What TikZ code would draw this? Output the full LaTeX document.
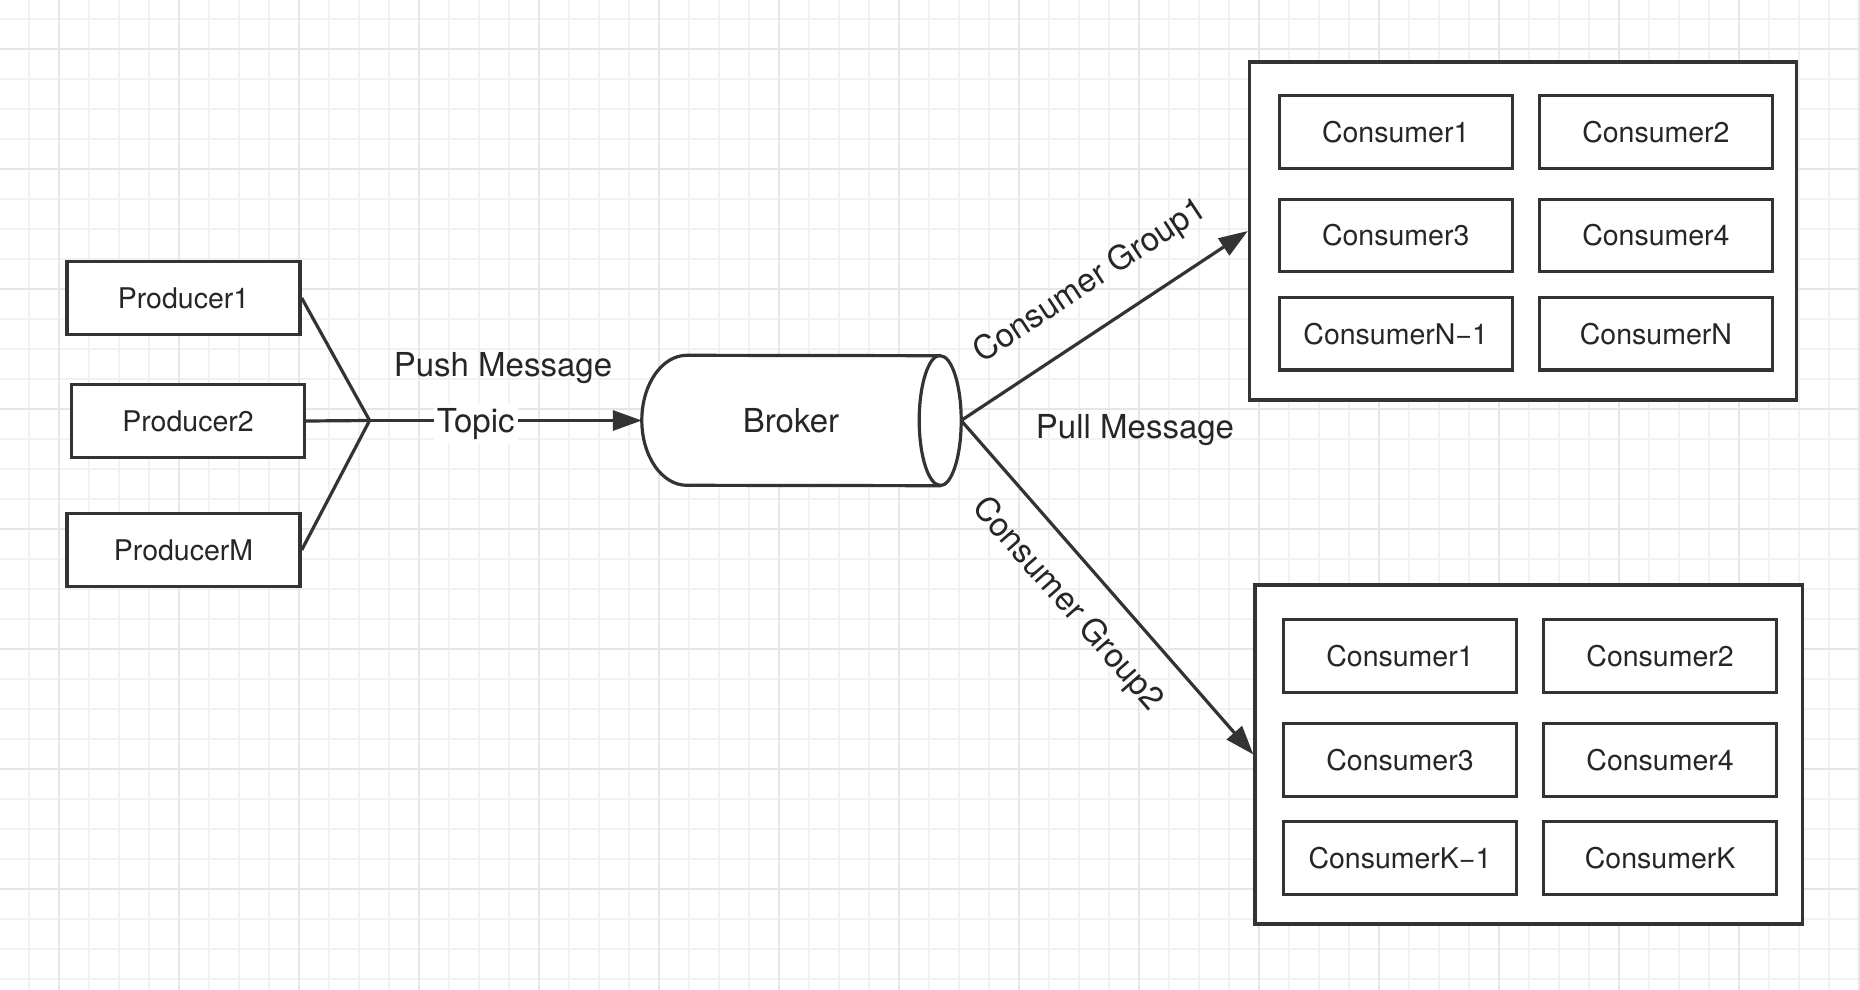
\documentclass[tikz,border=0pt]{standalone}
\usepackage{fontspec}
\setmainfont{TeX Gyre Heros}
\usetikzlibrary{arrows.meta,positioning,calc}
\pgfdeclarelayer{grid}
\pgfdeclarelayer{background}
\pgfsetlayers{grid,background,main}
\definecolor{ink}{RGB}{51,51,51}
\definecolor{textink}{RGB}{38,38,38}
\definecolor{gridminor}{RGB}{242,242,242}
\definecolor{gridmajor}{RGB}{230,230,230}
\tikzset{
  box/.style={draw=ink, line width=3.4pt, fill=white, text=textink, inner sep=0pt,
    minimum width=233pt, minimum height=72.5pt, font=\fontsize{28.5}{34}\selectfont},
  groupbox/.style={draw=ink, line width=3.4pt, fill=white},
  link/.style={draw=ink, line width=3.2pt},
  arrow/.style={link, -{Triangle[length=29pt,width=20pt]}},
  lbl/.style={text=textink, font=\fontsize{33}{40}\selectfont}
}

\begin{document}
\begin{tikzpicture}[x=1pt,y=-1pt]
\useasboundingbox (0,0) rectangle (1860,990);
\begin{pgfonlayer}{grid}
  \fill[white] (0,0) rectangle (1860,990);
  \foreach \x in {29,59,...,1859}
    \draw[gridminor, line width=1.5pt] (\x,0) -- (\x,990);
  \foreach \y in {19,49,...,979}
    \draw[gridminor, line width=1.5pt] (0,\y) -- (1860,\y);
  \foreach \x in {59,179,...,1859}
    \draw[gridmajor, line width=2pt] (\x,0) -- (\x,990);
  \foreach \y in {49,169,...,889}
    \draw[gridmajor, line width=2pt] (0,\y) -- (1860,\y);
\end{pgfonlayer}

\node[box] (prod1) at (183.5,298) {Producer1};
\node[box] (prod2) at (188,421) {Producer2};
\node[box] (prodM) at (183.5,550) {ProducerM};
\coordinate (hub) at (369.6,420.5);

\node[lbl, inner sep=0pt, minimum width=298pt, minimum height=130pt] (broker) at (791,420.5) {Broker};
\coordinate (brokerout) at ([xshift=21pt]broker.east);
\begin{pgfonlayer}{background}
  \draw[link, fill=white] ([xshift=45pt]broker.north west)
    arc[start angle=90, end angle=270, x radius=45pt, y radius=65pt]
    -- (broker.south east)
    arc[start angle=-90, end angle=90, x radius=21pt, y radius=65pt] -- cycle;
  \draw[link] (broker.north east)
    arc[start angle=90, end angle=270, x radius=21pt, y radius=65pt];
\end{pgfonlayer}

\draw[link] (prod1.east) -- (hub);
\draw[link] (prod2.east) -- (hub);
\draw[link] (prodM.east) -- (hub);
\draw[arrow] (hub) -- (broker.west)
  node[lbl, pos=0.39, fill=white, anchor=base, yshift=-11.5pt, inner xsep=3pt, inner ysep=4pt] (topic) {Topic}
  node[lbl, pos=0.49, anchor=base, yshift=44pt] (push) {Push Message};

\node[groupbox, minimum width=547pt, minimum height=338pt] (group1) at (1523,231) {};
\node[groupbox, minimum width=547.5pt, minimum height=339pt] (group2) at (1528.8,754.5) {};
\foreach \n/\t/\x/\y in {ca1/Consumer1/1395.7/132, ca2/Consumer2/1655.9/132,
    ca3/Consumer3/1395.7/235.5, ca4/Consumer4/1655.9/235.5,
    ca5/ConsumerN−1/1395.7/333.7, ca6/ConsumerN/1655.9/333.7}
  \node[box] (\n) at (\x,\y) {\t};
\foreach \n/\t/\x/\y in {cb1/Consumer1/1400/656, cb2/Consumer2/1660.1/656,
    cb3/Consumer3/1400/760, cb4/Consumer4/1660.1/760,
    cb5/ConsumerK−1/1400/858, cb6/ConsumerK/1660.1/858}
  \node[box] (\n) at (\x,\y) {\t};

\draw[arrow] (brokerout) -- (group1.west)
  node[lbl, pos=0.537, sloped, anchor=south, inner ysep=27pt] (cg1) {Consumer Group1};
\draw[arrow] (brokerout) -- (group2.west)
  node[lbl, pos=0.469, sloped, anchor=north, inner ysep=24pt] (cg2) {Consumer Group2};
\node[lbl, anchor=base] (pull) at (1135,438) {Pull Message};
\end{tikzpicture}
\end{document}
